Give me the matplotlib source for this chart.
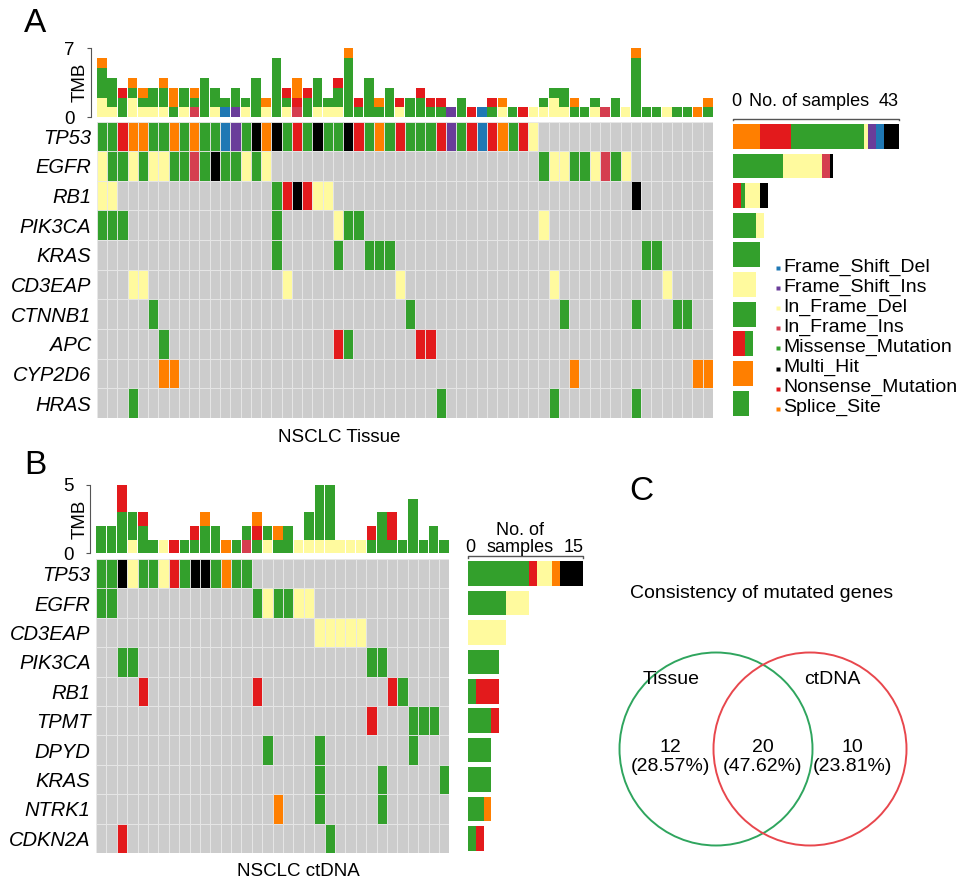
import numpy as np
import matplotlib.pyplot as plt
from matplotlib.patches import Rectangle, Circle

plt.rcParams['font.family'] = ['Liberation Sans', 'DejaVu Sans']

W, H = 969, 892

# variant classes, colours, one-letter codes used in the gene rows
classes = ['Frame_Shift_Del', 'Frame_Shift_Ins', 'In_Frame_Del', 'In_Frame_Ins',
           'Missense_Mutation', 'Multi_Hit', 'Nonsense_Mutation', 'Splice_Site']
class_colors = ['#1F78B4', '#6A3D9A', '#FFFA9E', '#D53E4F',
                '#33A02C', '#000000', '#E31A1C', '#FF7F00']
codes = {'B': 'Frame_Shift_Del', 'V': 'Frame_Shift_Ins', 'Y': 'In_Frame_Del',
         'P': 'In_Frame_Ins', 'G': 'Missense_Mutation', 'K': 'Multi_Hit',
         'R': 'Nonsense_Mutation', 'O': 'Splice_Site'}
col = dict(zip(classes, class_colors))

# ---- A: NSCLC tissue (60 samples) ----
n_a = 60
genes_a = ['TP53', 'EGFR', 'RB1', 'PIK3CA', 'KRAS', 'CD3EAP', 'CTNNB1', 'APC', 'CYP2D6', 'HRAS']
# "start:codes" -> consecutive samples starting at sample number `start`
muts_a = ['1:GGROOGGOGOGGBVGKOKGRGKGGKRGOGRGGGRVGRBROGRY',
          '1:YGGYGYYGGPGKGGYGY 44:GYYGGYPGY',
          '1:YY 18:GRKRYY 53:K',
          '1:GGG 18:G 24:YGG 44:Y',
          '18:G 24:G 27:GGG 54:GG',
          '4:YY 19:Y 30:Y 45:Y 56:Y',
          '6:G 31:G 46:G 53:G 57:GG',
          '7:G 24:RG 32:RR',
          '7:OO 47:O 59:OO',
          '4:G 34:G 45:G 53:G']
tmb_a_del = [2, 1, 0, 2, 1, 1, 1, 0, 1, 0, 0, 1, 0, 0, 1, 0, 1, 0, 1, 0,
             0, 1, 1, 1, 0, 0, 0, 0, 0, 1, 0, 0, 0, 0, 0, 0, 0, 0, 0, 1,
             0, 0, 1, 1, 2, 1, 0, 0, 1, 0, 0, 1, 0, 0, 0, 1, 0, 0, 0, 0]
tmb_a_ins = [0, 0, 0, 0, 0, 0, 0, 0, 0, 1, 0, 0, 0, 0, 0, 0, 0, 0, 0, 1,
             0, 0, 0, 0, 0, 0, 0, 0, 0, 0, 0, 0, 0, 0, 0, 0, 0, 0, 0, 0,
             0, 0, 0, 0, 0, 0, 0, 0, 0, 1, 0, 0, 0, 0, 0, 0, 0, 0, 0, 0]
tmb_a_fsdel = [0, 0, 0, 0, 0, 0, 0, 0, 0, 0, 0, 0, 1, 0, 0, 0, 0, 0, 0, 0,
               0, 0, 0, 0, 0, 0, 0, 0, 0, 0, 0, 0, 0, 0, 0, 0, 0, 1, 0, 0,
               0, 0, 0, 0, 0, 0, 0, 0, 0, 0, 0, 0, 0, 0, 0, 0, 0, 0, 0, 0]
tmb_a_fsins = [0, 0, 0, 0, 0, 0, 0, 0, 0, 0, 0, 0, 0, 1, 0, 0, 0, 0, 0, 0,
               0, 0, 0, 0, 0, 0, 0, 0, 0, 0, 0, 0, 0, 0, 1, 0, 0, 0, 0, 0,
               0, 0, 0, 0, 0, 0, 0, 0, 0, 0, 0, 0, 0, 0, 0, 0, 0, 0, 0, 0]
tmb_a_mis = [3, 3, 2, 1, 1, 2, 2, 1, 2, 1, 4, 2, 1, 2, 1, 4, 0, 6, 1, 0,
             2, 3, 1, 2, 6, 1, 4, 1, 3, 0, 2, 2, 1, 1, 0, 2, 0, 0, 1, 0,
             1, 0, 0, 1, 1, 2, 1, 1, 1, 0, 2, 0, 6, 1, 1, 0, 1, 1, 0, 1]
tmb_a_non = [0, 0, 1, 0, 0, 0, 0, 0, 0, 0, 0, 0, 0, 0, 0, 0, 0, 0, 1, 1,
             1, 0, 0, 1, 0, 1, 0, 0, 0, 1, 0, 1, 1, 1, 0, 0, 1, 0, 1, 0,
             0, 1, 0, 0, 0, 0, 0, 0, 0, 0, 0, 0, 0, 0, 0, 0, 0, 0, 0, 0]
tmb_a_spl = [1, 0, 0, 1, 1, 0, 1, 2, 0, 1, 0, 0, 0, 0, 0, 0, 1, 0, 0, 2,
             0, 0, 0, 0, 1, 0, 0, 1, 0, 0, 0, 0, 0, 0, 0, 0, 0, 0, 0, 1,
             0, 0, 0, 0, 0, 0, 1, 0, 0, 0, 0, 0, 1, 0, 0, 0, 0, 0, 1, 1]

# ---- B: NSCLC ctDNA (34 samples) ----
n_b = 34
genes_b = ['TP53', 'EGFR', 'CD3EAP', 'PIK3CA', 'RB1', 'TPMT', 'DPYD', 'KRAS', 'NTRK1', 'CDKN2A']
muts_b = ['1:GGKYGGYRGKKGOGG',
          '1:GG 16:GYGGYY',
          '22:YYYYY',
          '3:GG 27:GG',
          '5:R 16:R 29:RG',
          '27:R 31:GGG',
          '17:G 22:G 31:G',
          '22:G 28:G 34:G',
          '18:O 22:G 28:G',
          '3:R 23:G']
tmb_b_del = [0, 0, 0, 1, 0, 0, 1, 0, 0, 0, 0, 0, 0, 0, 0, 0, 1, 0, 0, 1,
             1, 1, 1, 1, 1, 1, 0, 0, 0, 0, 0, 0, 0, 0]
tmb_b_ins = [0, 0, 0, 0, 0, 0, 0, 0, 0, 0, 0, 0, 0, 0, 1, 0, 0, 0, 0, 0,
             0, 0, 0, 0, 0, 0, 0, 0, 0, 0, 0, 0, 0, 0]
tmb_b_mis = [2, 2, 3, 2, 2, 1, 0, 0, 1, 1, 2, 2, 0, 1, 1, 1, 1, 1, 2, 0,
             2, 4, 4, 0, 0, 0, 1, 3, 1, 1, 4, 1, 2, 1]
tmb_b_non = [0, 0, 2, 0, 1, 0, 0, 1, 0, 1, 0, 0, 0, 0, 0, 1, 0, 0, 0, 0,
             0, 0, 0, 0, 0, 0, 1, 0, 2, 0, 0, 0, 0, 0]
tmb_b_spl = [0, 0, 0, 0, 0, 0, 0, 0, 0, 0, 1, 0, 1, 0, 0, 1, 0, 1, 0, 0,
             0, 0, 0, 0, 0, 0, 0, 0, 0, 0, 0, 0, 0, 0]

# ---- C: Venn ----
venn_sets = ['Tissue', 'ctDNA']
venn_counts = [12, 20, 10]   # tissue only, shared, ctDNA only

# side bar stacking order differs a bit between panels
side_order_a = ['Splice_Site', 'Nonsense_Mutation', 'Missense_Mutation', 'In_Frame_Del',
                'Frame_Shift_Ins', 'Frame_Shift_Del', 'In_Frame_Ins', 'Multi_Hit']
side_order_b = ['Missense_Mutation', 'Nonsense_Mutation', 'In_Frame_Del', 'Splice_Site',
                'Multi_Hit', 'In_Frame_Ins', 'Frame_Shift_Del', 'Frame_Shift_Ins']
tmb_order = ['In_Frame_Del', 'In_Frame_Ins', 'Frame_Shift_Del', 'Frame_Shift_Ins',
             'Missense_Mutation', 'Nonsense_Mutation', 'Splice_Site']

FS = 13.5
fig = plt.figure(figsize=(W / 100, H / 100), dpi=100)


def px_axes(x0, y0, x1, y1):
    return fig.add_axes([x0 / W, 1 - y1 / H, (x1 - x0) / W, (y1 - y0) / H])


def parse(spec, n):
    row = [None] * n
    for tok in spec.split():
        start, run = tok.split(':')
        for k, c in enumerate(run):
            row[int(start) - 1 + k] = codes[c]
    return row


def draw_panel(genes, muts, n, tmb, tmb_max, side_order, side_max,
               box_tmb, box_grid, box_side):
    rows = [parse(m, n) for m in muts]

    # TMB bars on top
    ax = px_axes(*box_tmb)
    x = np.arange(n) + 0.5
    bottom = np.zeros(n)
    for cls in tmb_order:
        if cls not in tmb:
            continue
        v = np.array(tmb[cls], dtype=float)
        ax.bar(x, v, bottom=bottom, width=0.92, color=col[cls], linewidth=0)
        bottom += v
    ax.set_xlim(0, n)
    ax.set_ylim(0, tmb_max)
    for s in ['top', 'right', 'bottom']:
        ax.spines[s].set_visible(False)
    ax.spines['left'].set_position(('outward', 4))
    ax.spines['left'].set_color('#555555')
    ax.set_xticks([])
    ax.set_yticks([0, tmb_max])
    ax.tick_params(axis='y', length=3, labelsize=FS, pad=9, color='#555555')
    ax.set_ylabel('TMB', fontsize=FS)
    w = box_tmb[2] - box_tmb[0]
    ax.yaxis.set_label_coords((89 - box_tmb[0]) / w, 0.5)

    # oncoplot grid
    ax = px_axes(*box_grid)
    for i, row in enumerate(rows):
        for j, cls in enumerate(row):
            fc = '#CCCCCC' if cls is None else col[cls]
            ax.add_patch(Rectangle((j, i), 1, 1, facecolor=fc,
                                   edgecolor='#E8E8E8', linewidth=0.6))
    ax.set_xlim(0, n)
    ax.set_ylim(len(genes), 0)
    for s in ax.spines.values():
        s.set_visible(False)
    ax.set_xticks([])
    ax.set_yticks(np.arange(len(genes)) + 0.5)
    ax.set_yticklabels(genes, fontstyle='italic', fontsize=14.5)
    ax.tick_params(axis='y', length=0, pad=4)

    # number of samples per gene
    ax = px_axes(*box_side)
    y = np.arange(len(genes)) + 0.5
    left = np.zeros(len(genes))
    for cls in side_order:
        v = np.array([sum(1 for c in row if c == cls) for row in rows], dtype=float)
        ax.barh(y, v, left=left, height=0.84, color=col[cls], linewidth=0)
        left += v
    ax.set_xlim(0, side_max)
    ax.set_ylim(len(genes), 0)
    ax.axis('off')
    ax.plot([0, 0, side_max, side_max], [-0.04, -0.1, -0.1, -0.04],
            color='#555555', lw=1, clip_on=False)


tmb_a = {'In_Frame_Del': tmb_a_del, 'In_Frame_Ins': tmb_a_ins,
         'Frame_Shift_Del': tmb_a_fsdel, 'Frame_Shift_Ins': tmb_a_fsins,
         'Missense_Mutation': tmb_a_mis, 'Nonsense_Mutation': tmb_a_non,
         'Splice_Site': tmb_a_spl}
tmb_b = {'In_Frame_Del': tmb_b_del, 'In_Frame_Ins': tmb_b_ins,
         'Missense_Mutation': tmb_b_mis, 'Nonsense_Mutation': tmb_b_non,
         'Splice_Site': tmb_b_spl}

max_a = max(sum(1 for c in parse(m, n_a) if c) for m in muts_a)
max_b = max(sum(1 for c in parse(m, n_b) if c) for m in muts_b)

draw_panel(genes_a, muts_a, n_a, tmb_a, 7, side_order_a, max_a,
           (96.7, 48.3, 713, 117.3), (96.7, 121.5, 713, 418), (733.3, 121.5, 899, 418))
draw_panel(genes_b, muts_b, n_b, tmb_b, 5, side_order_b, max_b,
           (96, 485, 449.3, 553.3), (96, 559, 449.3, 853), (468.3, 559, 582.7, 853))

# overlay in pixel coordinates for labels, legend and Venn
ov = fig.add_axes([0, 0, 1, 1])
ov.set_xlim(0, W)
ov.set_ylim(H, 0)
ov.axis('off')

ov.text(35, 23, 'A', fontsize=24, ha='center', va='center')
ov.text(35, 466, 'B', fontsize=24, ha='center', va='center')
ov.text(641, 491, 'C', fontsize=24, ha='center', va='center')

ov.text(736, 101, '0', fontsize=13, ha='center', va='center')
ov.text(809, 101, 'No. of samples', fontsize=13, ha='center', va='center')
ov.text(889, 101, str(max_a), fontsize=13, ha='center', va='center')
ov.text(470, 547, '0', fontsize=13, ha='center', va='center')
ov.text(520, 539, 'No. of\nsamples', fontsize=13, ha='center', va='center', linespacing=1.0)
ov.text(574, 547, str(max_b), fontsize=13, ha='center', va='center')

ov.text(339, 437, 'NSCLC Tissue', fontsize=FS, ha='center', va='center')
ov.text(298, 872, 'NSCLC ctDNA', fontsize=FS, ha='center', va='center')

# legend
for k, (cls, c) in enumerate(zip(classes, class_colors)):
    yy = 267 + k * 20.1
    ov.plot(778, yy + 1, marker='s', ms=3, color=c, mec='none')
    ov.text(783, yy, cls, fontsize=14, ha='left', va='center')

# Venn diagram
ov.text(762, 594, 'Consistency of mutated genes', fontsize=14, ha='center', va='center')
ov.add_patch(Circle((716, 749), 96.5, fill=False, edgecolor='#2FA55E', lw=1.4))
ov.add_patch(Circle((810, 749), 96.5, fill=False, edgecolor='#E8474D', lw=1.4))
total = sum(venn_counts)
ov.text(671, 680, venn_sets[0], fontsize=14, ha='center', va='center')
ov.text(832, 680, venn_sets[1], fontsize=14, ha='center', va='center')
for xc, v in zip([670, 763, 852], venn_counts):
    ov.text(xc, 757, '%d\n(%.2f%%)' % (v, 100 * v / total), fontsize=14,
            ha='center', va='center', linespacing=1.1)

fig.savefig('out.png', dpi=100)
